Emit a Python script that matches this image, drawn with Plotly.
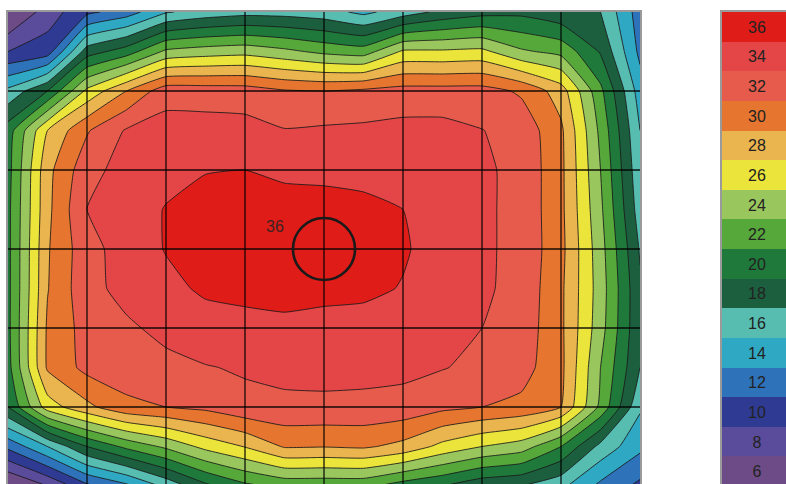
import plotly.graph_objects as go

# sample positions (grid units: 8 columns x 6 rows, sampled every half cell)
x_pos = [i * 0.5 for i in range(17)]
y_pos = [j * 0.5 for j in range(13)]

# values, one list per sample row (top to bottom)
row_00 = [5.5, 9, 11.5, 13, 15.8, 16.8, 17.3, 17.2, 16.8, 15.5, 17, 18.5, 19.3, 19.5, 18.5, 18, 13]
row_01 = [10, 11, 19, 21, 24.4, 25, 25.3, 24.5, 23.5, 23, 26.3, 26.3, 26.5, 24.3, 23.4, 19.8, 13.5]
row_02 = [16.5, 20, 26.5, 30, 33.2, 33.1, 33.0, 32.2, 32.0, 32.4, 32.8, 32.8, 32.8, 31.7, 29, 22.5, 15]
row_03 = [21, 28, 31.8, 34.2, 34.8, 34.8, 34.7, 34.1, 34.3, 34.4, 34.6, 34.6, 34.05, 33.3, 30.4, 23.5, 16]
row_04 = [21.3, 29.4, 33.3, 34.8, 35.4, 35.95, 36.0, 35.7, 35.6, 35.5, 35.2, 34.8, 34.3, 33.5, 30.5, 24, 16.5]
row_05 = [21.5, 29.5, 34.05, 35.05, 36.1, 36.4, 36.5, 36.6, 36.6, 36.4, 36.0, 35.25, 34.3, 33.5, 30.5, 24.4, 17]
row_06 = [21.5, 29.8, 33.3, 34.9, 36.1, 36.5, 36.7, 36.9, 37.0, 36.8, 36.2, 35.2, 34.3, 33.5, 30.6, 24.8, 17.8]
row_07 = [21.5, 29.9, 33.4, 34.6, 35.5, 36.3, 36.6, 36.6, 36.5, 36.4, 35.9, 35.0, 34.3, 33.4, 30.4, 25, 18.3]
row_08 = [21.5, 30.3, 32.8, 33.7, 34.5, 35.2, 35.3, 35.6, 35.4, 35.3, 35.2, 35.0, 34.0, 33.2, 30.4, 24.8, 18.3]
row_09 = [21.3, 30.3, 32.6, 33.1, 33.5, 33.9, 34.2, 34.5, 34.6, 34.6, 34.5, 34.1, 33.5, 32.8, 30.5, 24, 18]
row_10 = [20, 27, 29.5, 31.5, 32, 32.5, 33.5, 33.6, 33.6, 33.5, 33.3, 32.5, 32, 31.5, 30, 23.5, 16.3]
row_11 = [12.5, 16, 20, 22.5, 24.4, 26.6, 28.1, 30.2, 30.1, 30.3, 29.4, 27.4, 26, 25, 22, 17.4, 14.5]
row_12 = [5.5, 8, 11.5, 13.5, 16.5, 19.5, 21.5, 22.5, 22.5, 22.5, 21, 20, 18.5, 18, 16.5, 13.5, 11.5]
z_rows = [row_00, row_01, row_02, row_03, row_04, row_05, row_06,
          row_07, row_08, row_09, row_10, row_11, row_12]

# legend levels and colours (low -> high)
levels = [6, 8, 10, 12, 14, 16, 18, 20, 22, 24, 26, 28, 30, 32, 34, 36]
level_colors = ["#6d4b87", "#5b4b9b", "#2f3b93", "#2e73ba", "#2fa9c3", "#57bdb1",
                "#1c5f3e", "#1f793b", "#56a83b", "#9ac65e", "#ebe43b", "#eab44e",
                "#e6762f", "#e65b4b", "#e44547", "#df1c18"]

# grid lines (cell boundaries)
grid_x = [0, 1, 2, 3, 4, 5, 6, 7, 8]
grid_y = [0, 1, 2, 3, 4, 5, 6]

# peak marker and its label
peak_x, peak_y = [4], [3]
label_x, label_y, label_text = [3.38], [2.74], ["36"]

nseg = len(levels) - 1
contour_scale = [[k / nseg, c] for k, c in enumerate(level_colors)]
lo, hi = levels[0], levels[-1]
legend_scale = [[(v - lo) / (hi - lo), c] for v, c in zip(levels, level_colors)]

fig = go.Figure()
fig.add_trace(go.Contour(
    x=x_pos, y=y_pos, z=z_rows,
    autocontour=False,
    contours=dict(start=levels[1], end=levels[-1], size=2, coloring="fill", showlines=True),
    colorscale=contour_scale,
    line=dict(color="rgba(25,25,25,0.85)", width=1, smoothing=0.4),
    showscale=False, hoverinfo="skip",
))

gx, gy = [], []
for v in grid_x[1:-1]:
    gx += [v, v, None]
    gy += [grid_y[0], grid_y[-1], None]
for v in grid_y[1:-1]:
    gx += [grid_x[0], grid_x[-1], None]
    gy += [v, v, None]
fig.add_trace(go.Scatter(x=gx, y=gy, mode="lines",
                         line=dict(color="rgba(0,0,0,0.9)", width=1.3),
                         hoverinfo="skip", showlegend=False))

fig.add_trace(go.Scatter(x=peak_x, y=peak_y, mode="markers",
                         marker=dict(symbol="circle-open", size=62, color="#1a1a1a",
                                     line=dict(width=2.6, color="#1a1a1a")),
                         hoverinfo="skip", showlegend=False))
fig.add_trace(go.Scatter(x=label_x, y=label_y, mode="text", text=label_text,
                         textfont=dict(family="Liberation Sans", size=16, color="#3a2222"),
                         hoverinfo="skip", showlegend=False))

legend_desc = levels[::-1]
fig.add_trace(go.Heatmap(
    x=[0], y=list(range(len(legend_desc))), z=[[v] for v in legend_desc],
    xaxis="x2", yaxis="y2", colorscale=legend_scale, zmin=lo, zmax=hi,
    showscale=False, texttemplate="%{z}",
    textfont=dict(family="Liberation Sans", size=16, color="#222222"),
    hoverinfo="skip",
))

# page body margin is removed below, so figure coords = page coords
W, H = 786, 484
ml, mt, mb = 8, 12, 0
cell = 79.0
plot_w = 632
plot_h = H - mt - mb          # visible 472 px of the 6 rows
leg_left = 722
leg_cell_w = 70
leg_cell_h = 474 / 16
pw = W - ml

axis_style = dict(showgrid=False, zeroline=False, showticklabels=False, ticks="",
                  showline=True, linecolor="#9a9a9a", linewidth=2, layer="above traces")

fig.update_layout(
    width=W, height=H,
    margin=dict(l=ml, r=0, t=mt, b=mb),
    paper_bgcolor="white", plot_bgcolor="white",
    showlegend=False,
    xaxis=dict(domain=[0, plot_w / pw], range=[0, plot_w / cell], side="top", **axis_style),
    yaxis=dict(domain=[0, 1], range=[plot_h / cell, 0], mirror=True, **axis_style),
    xaxis2=dict(domain=[(leg_left - ml) / pw, 1], anchor="y2", side="top",
                range=[-0.5, -0.5 + (W - leg_left) / leg_cell_w], **axis_style),
    yaxis2=dict(domain=[0, 1], anchor="x2",
                range=[-0.5 + plot_h / leg_cell_h, -0.5], **axis_style),
)

fig.write_html("out.html",
               config={"displayModeBar": False},
               post_script="document.body.style.margin='0';"
                           "document.documentElement.style.overflow='hidden';"
                           "document.body.style.overflow='hidden';")
